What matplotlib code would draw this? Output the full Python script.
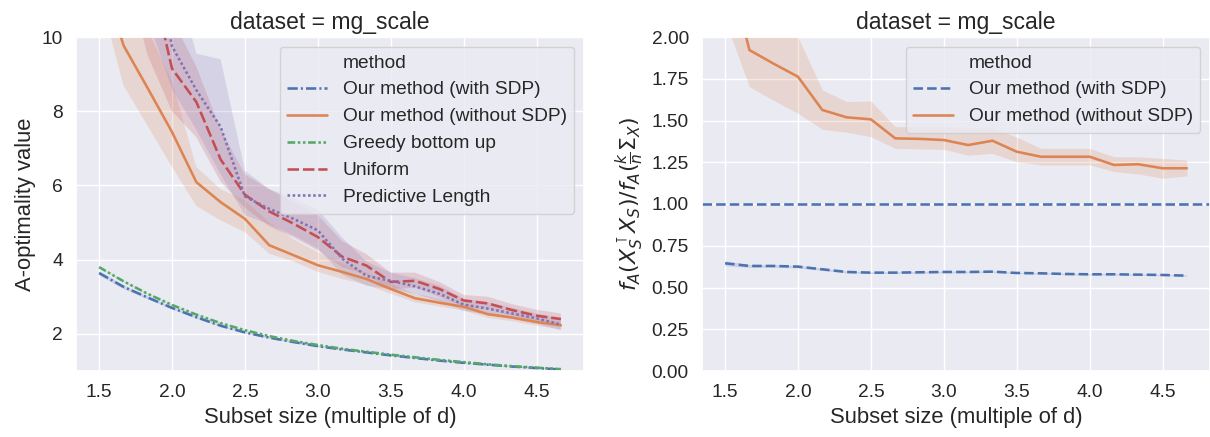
import numpy as np
import matplotlib
matplotlib.use("Agg")
import matplotlib.pyplot as plt
import seaborn as sns

sns.set_theme(style="darkgrid", context="notebook", font_scale=1.25)
plt.rcParams["font.family"] = ["Liberation Sans", "DejaVu Sans"]

# subset sizes k (d = 6 features for mg_scale)
d = 6
subset_k = [9, 10, 11, 12, 13, 14, 15, 16, 17, 18, 19, 20, 21, 22, 23, 24, 25, 26, 27, 28]
x = np.array(subset_k) / d

methods = ["Our method (with SDP)", "Our method (without SDP)", "Greedy bottom up",
           "Uniform", "Predictive Length"]
colors = sns.color_palette("deep")
method_colors = [colors[0], colors[1], colors[2], colors[3], colors[4]]
method_styles = [(0, (4, 1.2, 0.8, 1.2)), "-", (0, (3, 1, 1, 1, 1, 1)),
                 (0, (4.5, 1.5)), (0, (1, 1))]

# ---- left panel: A-optimality value (mean, lower, upper)
sdp_mean = [3.64, 3.27, 2.98, 2.70, 2.45, 2.22, 2.04, 1.90, 1.78, 1.67,
            1.58, 1.50, 1.42, 1.35, 1.28, 1.22, 1.17, 1.12, 1.08, 1.04]
sdp_lo = [3.58, 3.22, 2.94, 2.67, 2.42, 2.20, 2.02, 1.88, 1.76, 1.65,
          1.57, 1.49, 1.41, 1.34, 1.27, 1.21, 1.16, 1.11, 1.07, 1.03]
sdp_hi = [3.70, 3.32, 3.02, 2.73, 2.48, 2.24, 2.06, 1.92, 1.80, 1.69,
          1.59, 1.51, 1.43, 1.36, 1.29, 1.23, 1.18, 1.13, 1.09, 1.05]

nosdp_mean = [12.0, 9.78, 8.62, 7.44, 6.09, 5.55, 5.10, 4.39, 4.12, 3.85,
              3.67, 3.48, 3.21, 2.96, 2.84, 2.73, 2.53, 2.44, 2.32, 2.23]
nosdp_lo = [11.2, 8.7, 7.6, 6.5, 5.45, 5.06, 4.74, 4.16, 3.95, 3.67,
            3.48, 3.32, 3.08, 2.85, 2.74, 2.63, 2.43, 2.34, 2.22, 2.12]
nosdp_hi = [16.0, 12.0, 10.2, 8.8, 6.5, 5.9, 5.6, 5.0, 4.55, 4.2,
            3.9, 3.65, 3.35, 3.08, 2.95, 2.83, 2.63, 2.55, 2.42, 2.33]

greedy_mean = [3.80, 3.42, 3.08, 2.78, 2.52, 2.29, 2.10, 1.94, 1.81, 1.70,
               1.60, 1.52, 1.44, 1.37, 1.30, 1.24, 1.18, 1.13, 1.09, 1.05]
greedy_lo = [3.78, 3.40, 3.06, 2.76, 2.50, 2.27, 2.09, 1.93, 1.80, 1.69,
             1.59, 1.51, 1.43, 1.36, 1.29, 1.23, 1.17, 1.12, 1.08, 1.04]
greedy_hi = [3.82, 3.44, 3.10, 2.80, 2.54, 2.31, 2.11, 1.95, 1.82, 1.71,
             1.61, 1.53, 1.45, 1.38, 1.31, 1.25, 1.19, 1.14, 1.10, 1.06]

uniform_mean = [18.0, 15.0, 12.0, 9.15, 8.25, 6.7, 5.75, 5.30, 4.97, 4.61,
                4.08, 3.84, 3.40, 3.43, 3.21, 2.90, 2.82, 2.64, 2.49, 2.40]
uniform_lo = [14.0, 12.0, 9.5, 8.0, 7.3, 6.1, 5.4, 4.9, 4.6, 4.25,
              3.8, 3.6, 3.2, 3.25, 3.0, 2.75, 2.65, 2.5, 2.35, 2.2]
uniform_hi = [22.0, 18.0, 13.0, 10.5, 9.2, 7.5, 6.3, 5.9, 5.55, 5.2,
              4.5, 4.15, 3.65, 3.65, 3.4, 3.05, 3.0, 2.8, 2.65, 2.55]

predlen_mean = [19.0, 16.0, 13.0, 9.75, 8.57, 7.58, 5.70, 5.37, 5.10, 4.79,
                4.03, 3.56, 3.43, 3.28, 3.08, 2.79, 2.68, 2.55, 2.42, 2.25]
predlen_lo = [15.0, 12.0, 10.5, 8.6, 7.5, 6.3, 5.2, 4.95, 4.65, 4.3,
              3.6, 3.3, 3.2, 3.08, 2.88, 2.62, 2.52, 2.4, 2.27, 2.1]
predlen_hi = [24.0, 20.0, 16.0, 12.0, 9.55, 9.4, 6.4, 5.9, 5.65, 5.35,
              4.6, 3.95, 3.65, 3.5, 3.3, 2.95, 2.85, 2.7, 2.55, 2.4]

left_series = [
    (sdp_mean, sdp_lo, sdp_hi),
    (nosdp_mean, nosdp_lo, nosdp_hi),
    (greedy_mean, greedy_lo, greedy_hi),
    (uniform_mean, uniform_lo, uniform_hi),
    (predlen_mean, predlen_lo, predlen_hi),
]

# ---- right panel: ratio to (k/n) Sigma_X
ratio_sdp = [0.645, 0.629, 0.629, 0.625, 0.609, 0.593, 0.589, 0.589, 0.591, 0.593,
             0.593, 0.595, 0.587, 0.585, 0.581, 0.579, 0.579, 0.577, 0.575, 0.571]
ratio_sdp_lo = [0.630, 0.620, 0.621, 0.617, 0.602, 0.587, 0.584, 0.584, 0.586, 0.588,
                0.588, 0.590, 0.583, 0.581, 0.577, 0.575, 0.575, 0.573, 0.571, 0.567]
ratio_sdp_hi = [0.660, 0.638, 0.637, 0.633, 0.616, 0.599, 0.594, 0.594, 0.596, 0.598,
                0.598, 0.600, 0.591, 0.589, 0.585, 0.583, 0.583, 0.581, 0.579, 0.575]

ratio_nosdp = [2.5, 1.922, 1.84, 1.762, 1.563, 1.519, 1.507, 1.393, 1.39, 1.383,
               1.353, 1.379, 1.313, 1.283, 1.283, 1.283, 1.234, 1.238, 1.214, 1.214]
ratio_nosdp_lo = [2.1, 1.702, 1.62, 1.543, 1.447, 1.43, 1.403, 1.333, 1.33, 1.327,
                  1.293, 1.303, 1.253, 1.234, 1.234, 1.234, 1.194, 1.18, 1.154, 1.168]
ratio_nosdp_hi = [3.2, 2.8, 2.4, 2.0, 1.683, 1.613, 1.617, 1.463, 1.463, 1.463,
                  1.455, 1.453, 1.40, 1.333, 1.333, 1.333, 1.283, 1.283, 1.273, 1.263]
ratio_ref = 1.0

LW = 1.85
xticks = [1.5, 2.0, 2.5, 3.0, 3.5, 4.0, 4.5]

fig = plt.figure(figsize=(12.1, 4.37), dpi=100)
ax1 = fig.add_axes([76 / 1210, 66 / 437, 508 / 1210, 334 / 437])
ax2 = fig.add_axes([702 / 1210, 66 / 437, 508 / 1210, 334 / 437])

for (m, lo, hi), name, col, ls in zip(left_series, methods, method_colors, method_styles):
    ax1.fill_between(x, lo, hi, color=col, alpha=0.2, linewidth=0)
    ax1.plot(x, m, color=col, linestyle=ls, linewidth=LW, label=name)

ax1.set_xlim(x[0] - 0.05 * (x[-1] - x[0]), x[-1] + 0.05 * (x[-1] - x[0]))
ax1.set_ylim(1.0, 10)
ax1.set_yticks([2, 4, 6, 8, 10])
ax1.set_xticks(xticks)
ax1.set_xlabel("Subset size (multiple of d)", fontsize=15.8)
ax1.set_ylabel("A-optimality value", fontsize=15.8)
ax1.set_title("dataset = mg_scale", fontsize=16.5)

h, l = ax1.get_legend_handles_labels()
blank = plt.Line2D([], [], linestyle="", marker="")
ax1.legend([blank] + h, ["method"] + l, loc="upper right", handlelength=2.1)

ax2.fill_between(x, ratio_sdp_lo, ratio_sdp_hi, color=colors[0], alpha=0.2, linewidth=0)
ax2.plot(x, ratio_sdp, color=colors[0], linestyle="--", linewidth=LW,
         label="Our method (with SDP)")
ax2.fill_between(x, ratio_nosdp_lo, ratio_nosdp_hi, color=colors[1], alpha=0.2, linewidth=0)
ax2.plot(x, ratio_nosdp, color=colors[1], linestyle="-", linewidth=LW,
         label="Our method (without SDP)")
ax2.axhline(ratio_ref, color=colors[0], linestyle="--", linewidth=LW)

ax2.set_xlim(x[0] - 0.05 * (x[-1] - x[0]), x[-1] + 0.05 * (x[-1] - x[0]))
ax2.set_ylim(0, 2)
ax2.set_yticks(np.arange(0, 2.01, 0.25))
ax2.yaxis.set_major_formatter(matplotlib.ticker.FormatStrFormatter("%.2f"))
ax2.set_xticks(xticks)
ax2.set_xlabel("Subset size (multiple of d)", fontsize=15.8)
ax2.set_ylabel(r"$f_A(X_S^\intercal X_S)/f_A(\frac{k}{n}\Sigma_X)$", fontsize=15.8)
ax2.set_title("dataset = mg_scale", fontsize=16.5)

h, l = ax2.get_legend_handles_labels()
ax2.legend([blank] + h, ["method"] + l, loc="upper right", handlelength=2.1)

fig.savefig("out.png", dpi=100)
